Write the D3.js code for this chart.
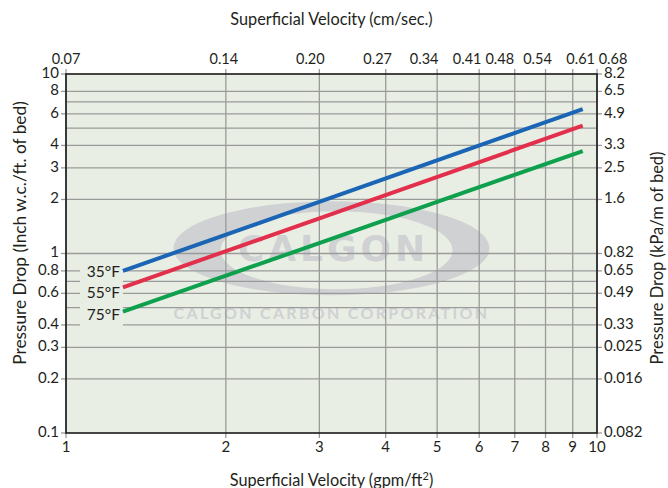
<!DOCTYPE html>
<html><head><meta charset="utf-8">
<script src="https://cdn.jsdelivr.net/npm/d3@7/dist/d3.min.js"></script>
<style>
body{margin:0;background:#fff;}
text{font-family:Lato, "Noto Sans", sans-serif;fill:#231f20;}
</style></head>
<body><svg id="c" width="668" height="488"></svg>
<script>
// ---- data ----
const seriesNames = ["35°F","55°F","75°F"];
const seriesColors = ["#1b65b5","#e2304c","#0ea04c"];
const flowStart = 1.28, flowEnd = 9.4;           // gpm/ft²
const dropStart = [0.80, 0.648, 0.474];          // inch w.c./ft at flowStart
const dropEnd   = [6.38, 5.15, 3.72];            // inch w.c./ft at flowEnd

const bottomTicks = [1,2,3,4,5,6,7,8,9,10];
const bottomLabels = ["1","2","3","4","5","6","7","8","9","10"];
const topLabels = ["0.07","0.14","0.20","0.27","0.34","0.41","0.48","0.54","0.61","0.68"];
const vGrid = [2,3,4,5,6,7,8,9];
const hGrid = [8,7,6,5,4,3,2,1,0.8,0.7,0.6,0.5,0.4,0.3,0.2];
const leftTicks = [10,8,6,4,3,2,1,0.8,0.6,0.4,0.3,0.2,0.1];
const leftLabels = ["10","8","6","4","3","2","1","0.8","0.6","0.4","0.3","0.2","0.1"];
const rightLabels = ["8.2","6.5","4.9","3.3","2.5","1.6","0.82","0.65","0.49","0.33","0.025","0.016","0.082"];

// ---- layout (label nudges only, not data) ----
const topNudge = [0,-2,-9,-8,-13,-12,-15,-8,8,16];
const nameNudge = [2,7,4];

const svg = d3.select("#c");
const x = d3.scaleLog().domain([1,10]).range([66,597]);
const y = d3.scaleLog().domain([0.1,10]).range([433,74]);
const x0=x(1), x1=x(10), y0=y(10), y1=y(0.1);
const plotFill = "#e9eee4";

svg.append("rect").attr("x",x0).attr("y",y0).attr("width",x1-x0).attr("height",y1-y0).attr("fill",plotFill);

// watermark
const wm = svg.append("g");
const cx=(x0+x1)/2, cy=y(1.07);
const outer = `M${cx-158},${cy} a158,47 0 1,0 316,0 a158,47 0 1,0 -316,0 Z`;
const inner = `M${cx+5-116},${cy+2} a116,39 0 1,0 232,0 a116,39 0 1,0 -232,0 Z`;
wm.append("path").attr("d",outer+inner).attr("fill","#cfd1d3").attr("fill-rule","evenodd");
wm.append("text").attr("x",cx+2).attr("y",cy+13).attr("text-anchor","middle")
  .style("font-family","'DejaVu Sans', Lato, sans-serif").style("font-weight","bold").style("font-size","36px")
  .style("letter-spacing","4px").style("fill","#cfd1d3").text("CALGON");
wm.append("text").attr("x",cx).attr("y",cy+71).attr("text-anchor","middle")
  .style("font-family","Lato, sans-serif").style("font-weight","bold").style("font-size","16px")
  .style("letter-spacing","2.3px").style("fill","#cfd1d3").text("CALGON CARBON CORPORATION");

// grid
const gridCol="#9a9a9a";
svg.append("g").selectAll("line").data(vGrid).join("line")
  .attr("x1",d=>x(d)).attr("x2",d=>x(d)).attr("y1",y0-5).attr("y2",y1+5)
  .attr("stroke",gridCol).attr("stroke-width",1.3);
svg.append("g").selectAll("line").data(hGrid).join("line")
  .attr("x1",x0).attr("x2",x1).attr("y1",d=>y(d)).attr("y2",d=>y(d))
  .attr("stroke",gridCol).attr("stroke-width",1.3);
svg.append("g").selectAll("line").data(leftTicks).join("line")
  .attr("x1",x0-5).attr("x2",x0).attr("y1",d=>y(d)).attr("y2",d=>y(d)).attr("stroke",gridCol).attr("stroke-width",1.3);
svg.append("g").selectAll("line").data(leftTicks).join("line")
  .attr("x1",x1).attr("x2",x1+5).attr("y1",d=>y(d)).attr("y2",d=>y(d)).attr("stroke",gridCol).attr("stroke-width",1.3);
svg.append("g").selectAll("line").data([1,10]).join("line")
  .attr("x1",d=>x(d)).attr("x2",d=>x(d)).attr("y1",y0-5).attr("y2",y1+5).attr("stroke",gridCol).attr("stroke-width",1.3);

// label backdrop
svg.append("rect").attr("x",x0+14).attr("y",y(0.95)).attr("width",x(flowStart)-x0-14)
  .attr("height",y(0.35)-y(0.95)).attr("fill",plotFill);

// frame
svg.append("rect").attr("x",x0).attr("y",y0).attr("width",x1-x0).attr("height",y1-y0)
  .attr("fill","none").attr("stroke","#1a1a1a").attr("stroke-width",1.6);

// series
const line = d3.line().x(d=>x(d[0])).y(d=>y(d[1]));
seriesNames.forEach((n,i)=>{
  svg.append("path").datum([[flowStart,dropStart[i]],[flowEnd,dropEnd[i]]])
    .attr("d",line).attr("fill","none").attr("stroke",seriesColors[i]).attr("stroke-width",4);
  svg.append("text").attr("x",x(flowStart)-3).attr("y",y(dropStart[i])+nameNudge[i])
    .attr("text-anchor","end").attr("dominant-baseline","middle").style("font-size","15.5px").text(n);
});

// tick labels
const fs="15px";
svg.append("g").selectAll("text").data(bottomTicks).join("text")
  .attr("x",d=>x(d)).attr("y",y1+19).attr("text-anchor","middle").style("font-size",fs).text((d,i)=>bottomLabels[i]);
svg.append("g").selectAll("text").data(bottomTicks).join("text")
  .attr("x",(d,i)=>x(d)+topNudge[i]).attr("y",y0-10).attr("text-anchor","middle").style("font-size","14.5px").text((d,i)=>topLabels[i]);
svg.append("g").selectAll("text").data(leftTicks).join("text")
  .attr("x",x0-7).attr("y",d=>y(d)).attr("dominant-baseline","middle").attr("text-anchor","end").style("font-size",fs).text((d,i)=>leftLabels[i]);
svg.append("g").selectAll("text").data(leftTicks).join("text")
  .attr("x",x1+7).attr("y",d=>y(d)).attr("dominant-baseline","middle").attr("text-anchor","start").style("font-size",fs).text((d,i)=>rightLabels[i]);

// titles
svg.append("text").attr("x",cx).attr("y",25).attr("text-anchor","middle").style("font-size","16.3px").text("Superficial Velocity (cm/sec.)");
svg.append("text").attr("x",cx).attr("y",486).attr("text-anchor","middle").style("font-size","16.3px")
  .html("Superficial Velocity (gpm/ft<tspan baseline-shift='super' font-size='11px'>2</tspan>)");
svg.append("text").attr("transform",`translate(26,233) rotate(-90)`).attr("text-anchor","middle").style("font-size","17.3px").text("Pressure Drop (Inch w.c./ft. of bed)");
svg.append("text").attr("transform",`translate(663,258) rotate(-90)`).attr("text-anchor","middle").style("font-size","16.5px").text("Pressure Drop (kPa/m of bed)");
</script></body></html>
